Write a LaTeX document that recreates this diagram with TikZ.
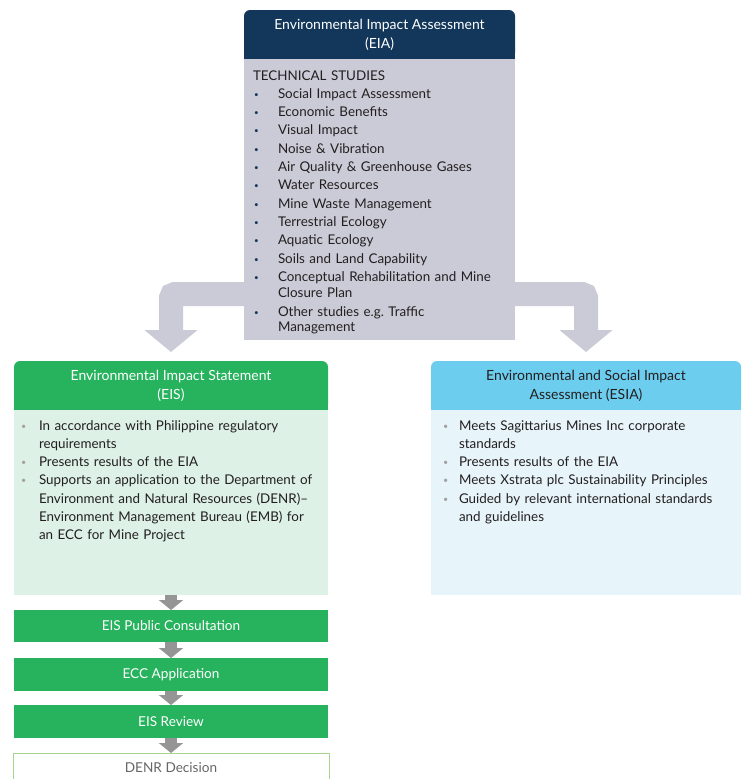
\documentclass[tikz,border=0pt]{standalone}
\usepackage{fontspec}
\setmainfont{Lato}
\usetikzlibrary{arrows.meta,positioning,backgrounds}

\definecolor{eianavy}{HTML}{12375A}
\definecolor{eiagrey}{HTML}{CBCBD7}
\definecolor{eisgreen}{HTML}{27B35E}
\definecolor{eispale}{HTML}{DDF1E6}
\definecolor{esiablue}{HTML}{6CCDEE}
\definecolor{esiapale}{HTML}{E7F4FA}
\definecolor{stepgrey}{HTML}{959595}
\definecolor{denrgreen}{HTML}{A8D590}
\definecolor{dotgrey}{HTML}{A3A3A3}
\definecolor{inktext}{HTML}{231F20}

\newcommand{\eiadot}{\makebox[25pt][l]{\hspace{1pt}\raisebox{1pt}{\textcolor{eianavy}{\fontsize{8}{8}\selectfont\textbullet}}}}
\newcommand{\repdot}[1][18pt]{\makebox[#1][l]{\raisebox{1pt}{\textcolor{dotgrey}{\fontsize{9}{9}\selectfont\textbullet}}}}

\begin{document}
\begin{tikzpicture}[
    x=1pt,y=-1pt,
    line join=round,
    headbox/.style={rectangle, inner sep=0pt, outer sep=0pt, align=center,
        font=\fontsize{14}{19}\selectfont, minimum height=49pt},
    bodybox/.style={rectangle, inner sep=0pt, outer sep=0pt, minimum height=185pt},
    listtext/.style={inner sep=0pt, outer sep=0pt, align=left, text=inktext,
        font=\fontsize{13.4}{18.3}\selectfont},
    stepbox/.style={rectangle, inner sep=0pt, outer sep=0pt, fill=eisgreen, text=white,
        minimum width=314pt, minimum height=32pt, font=\fontsize{13.6}{16}\selectfont},
    splitarrow/.style={draw=eiagrey, line width=24pt, rounded corners=4pt,
        -{Triangle[width=52pt,length=22pt]}},
    steparrow/.style={draw=stepgrey, line width=12pt,
        -{Triangle[width=24pt,length=10pt]}}
]
\useasboundingbox (0,0) rectangle (742,779);

% EIA box
\node[headbox, minimum width=271pt, text=white] (eiahead) at (379.5,34.5)
    {Environmental Impact Assessment\\(EIA)};
\node[bodybox, fill=eiagrey, minimum width=271pt, minimum height=281pt,
    below=0pt of eiahead] (eiabody) {};
\node[listtext, text width=330pt, anchor=base west] (eialist) at (253,80) {%
    TECHNICAL STUDIES\\
    \eiadot Social Impact Assessment\\
    \eiadot Economic Benefits\\
    \eiadot Visual Impact\\
    \eiadot Noise \& Vibration\\
    \eiadot Air Quality \& Greenhouse Gases\\
    \eiadot Water Resources\\
    \eiadot Mine Waste Management\\
    \eiadot Terrestrial Ecology\\
    \eiadot Aquatic Ecology\\
    \eiadot Soils and Land Capability\\
    \eiadot Conceptual Rehabilitation and Mine\\[-2.5pt]
    \hspace*{25pt}Closure Plan\\[0.7pt]
    \eiadot Other studies e.g.\ Traffic\\[-2.5pt]
    \hspace*{25pt}Management};

% EIS box
\node[headbox, minimum width=314pt, text=white] (eishead) at (171,385.5)
    {Environmental Impact Statement\\(EIS)};
\node[bodybox, fill=eispale, minimum width=314pt, below=0pt of eishead] (eisbody) {};
\node[listtext, text width=330pt, anchor=base west] (eislist) at (21,430) {%
    \repdot In accordance with Philippine regulatory\\
    \hspace*{18pt}requirements\\
    \repdot Presents results of the EIA\\
    \repdot Supports an application to the Department of\\
    \hspace*{18pt}Environment and Natural Resources (DENR)--\\
    \hspace*{18pt}Environment Management Bureau (EMB) for\\
    \hspace*{18pt}an ECC for Mine Project};

% ESIA box
\node[headbox, minimum width=310pt, text=inktext] (esiahead) at (586,385.5)
    {Environmental and Social Impact\\Assessment (ESIA)};
\node[bodybox, fill=esiapale, minimum width=310pt, below=0pt of esiahead] (esiabody) {};
\node[listtext, text width=330pt, anchor=base west] (esialist) at (443,430) {%
    \repdot[16pt]Meets Sagittarius Mines Inc corporate\\
    \hspace*{16pt}standards\\
    \repdot[16pt]Presents results of the EIA\\
    \repdot[16pt]Meets Xstrata plc Sustainability Principles\\
    \repdot[16pt]Guided by relevant international standards\\
    \hspace*{16pt}and guidelines};

% approval steps
\node[stepbox, below=15pt of eisbody] (consult) {EIS Public Consultation};
\node[stepbox, below=16pt of consult, minimum height=33pt] (eccapp) {ECC Application};
\node[stepbox, below=14pt of eccapp, minimum height=33pt] (eisreview) {EIS Review};
\node[stepbox, below=15pt of eisreview, fill=white, draw=denrgreen, line width=1pt,
    text=black!60, minimum width=316pt, minimum height=30pt] (denr) {DENR Decision};

\draw[steparrow] (eisbody) -- (consult);
\draw[steparrow] (consult) -- (eccapp);
\draw[steparrow] (eccapp) -- (eisreview);
\draw[steparrow] (eisreview) -- (denr);

\begin{scope}[on background layer]
    \draw[splitarrow] (eiabody.center |- 0,294) -| ([yshift=9pt]eishead.north);
    \draw[splitarrow] (eiabody.center |- 0,294) -| ([yshift=9pt]esiahead.north);
    \foreach \hd/\col in {eiahead/eianavy, eishead/eisgreen, esiahead/esiablue} {
        \fill[\col, rounded corners=6pt] (\hd.south west) rectangle (\hd.north east);
        \fill[\col] (\hd.south west) rectangle ([yshift=10pt]\hd.east);
    }
\end{scope}

\end{tikzpicture}
\end{document}
